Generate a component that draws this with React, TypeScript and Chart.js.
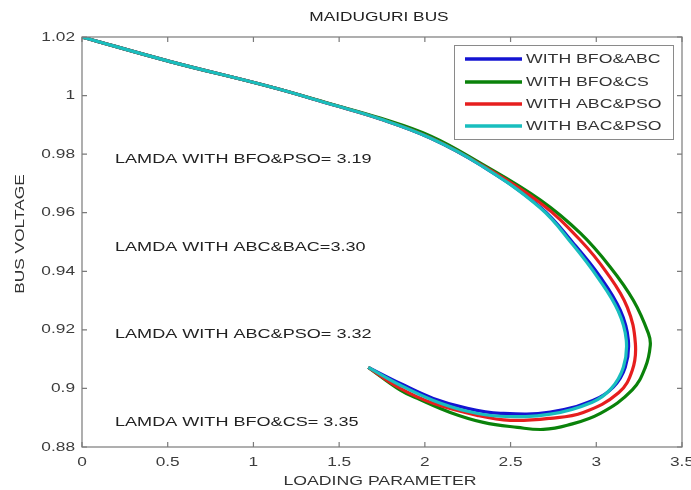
import React, { useEffect, useRef } from "react";
import { Chart, registerables } from "chart.js";

Chart.register(...registerables);

const chartTitle = "MAIDUGURI BUS";
const xAxisTitle = "LOADING PARAMETER";
const yAxisTitle = "BUS VOLTAGE";

const xTickValues = [0, 0.5, 1, 1.5, 2, 2.5, 3, 3.5];
const xTickLabels = ["0", "0.5", "1", "1.5", "2", "2.5", "3", "3.5"];
const yTickValues = [0.88, 0.9, 0.92, 0.94, 0.96, 0.98, 1.0, 1.02];
const yTickLabels = ["0.88", "0.9", "0.92", "0.94", "0.96", "0.98", "1", "1.02"];

const seriesNames = ["WITH BFO&ABC", "WITH BFO&CS", "WITH ABC&PSO", "WITH BAC&PSO"];
const seriesColors = ["#1414d2", "#0a820a", "#e61e1e", "#19bebe"];

const annotations = [
  "LAMDA WITH BFO&PSO= 3.19",
  "LAMDA WITH ABC&BAC=3.30",
  "LAMDA WITH ABC&PSO= 3.32",
  "LAMDA WITH BFO&CS= 3.35",
];
const annotationVoltages = [0.9783, 0.9483, 0.9184, 0.8883];

// WITH BFO&ABC (blue)
const blueX = [0, 0.515, 1.098, 1.448, 1.74, 2.032, 2.324, 2.674, 2.866, 3.024, 3.14, 3.187, 3.169, 3.099, 2.983, 2.732, 2.44, 2.248, 2.049, 1.857, 1.67];
const blueY = [1.02, 1.0116, 1.003, 0.9971, 0.992, 0.9855, 0.9763, 0.9619, 0.9496, 0.938, 0.9267, 0.9165, 0.9072, 0.9004, 0.896, 0.8919, 0.8915, 0.8932, 0.8966, 0.9017, 0.9072];

// WITH BFO&CS (green)
const greenX = [0, 0.515, 1.098, 1.448, 1.74, 2.032, 2.324, 2.674, 2.907, 3.082, 3.216, 3.304, 3.315, 3.286, 3.21, 3.024, 2.831, 2.691, 2.54, 2.341, 2.148, 1.956, 1.857, 1.67];
const greenY = [1.02, 1.0116, 1.003, 0.9972, 0.9923, 0.9862, 0.9769, 0.9643, 0.953, 0.9414, 0.9301, 0.9188, 0.9147, 0.9072, 0.8995, 0.8915, 0.8874, 0.886, 0.8867, 0.8884, 0.8918, 0.8966, 0.8994, 0.9072];

// WITH ABC&PSO (red)
const redX = [0, 0.515, 1.098, 1.448, 1.74, 2.032, 2.324, 2.674, 2.907, 3.064, 3.181, 3.228, 3.21, 3.13, 2.924, 2.732, 2.498, 2.306, 2.049, 1.857, 1.67];
const redY = [1.02, 1.0116, 1.003, 0.9971, 0.992, 0.9856, 0.9765, 0.9633, 0.9506, 0.9393, 0.9277, 0.9154, 0.9062, 0.8985, 0.8918, 0.8898, 0.8891, 0.8908, 0.8949, 0.9, 0.9072];

// WITH BAC&PSO (cyan)
const cyanX = [0, 0.515, 1.098, 1.448, 1.74, 2.032, 2.324, 2.674, 2.86, 3.012, 3.128, 3.175, 3.158, 3.088, 2.977, 2.732, 2.44, 2.248, 2.049, 1.857, 1.67];
const cyanY = [1.02, 1.0116, 1.003, 0.9971, 0.992, 0.9855, 0.9763, 0.9616, 0.9493, 0.9376, 0.9264, 0.9165, 0.9072, 0.9, 0.8953, 0.8912, 0.8905, 0.8922, 0.8959, 0.9011, 0.9072];

const seriesX = [blueX, greenX, redX, cyanX];
const seriesY = [blueY, greenY, redY, cyanY];

const FONT = "'Liberation Sans', Arial, sans-serif";

function wideText(
  ctx: CanvasRenderingContext2D,
  text: string,
  x: number,
  y: number,
  align: CanvasTextAlign,
  size: number,
  color: string,
  sx = 1.33,
  rotate = 0
) {
  ctx.save();
  ctx.translate(x, y);
  if (rotate) ctx.rotate(rotate);
  ctx.scale(sx, 1);
  ctx.font = `${size}px ${FONT}`;
  ctx.fillStyle = color;
  ctx.textAlign = align;
  ctx.textBaseline = "middle";
  ctx.fillText(text, 0, 0);
  ctx.restore();
}

const decorPlugin = {
  id: "matlabDecor",
  afterDraw(chart: any) {
    const ctx: CanvasRenderingContext2D = chart.ctx;
    const area = chart.chartArea;
    const xs = chart.scales.x;
    const ys = chart.scales.y;
    const axisColor = "#7a7a7a";
    const tickColor = "#3c3c3c";

    ctx.save();
    ctx.strokeStyle = axisColor;
    ctx.lineWidth = 1.2;
    ctx.strokeRect(area.left, area.top, area.right - area.left, area.bottom - area.top);

    const tl = 5;
    ctx.beginPath();
    xTickValues.forEach((v) => {
      const px = xs.getPixelForValue(v);
      ctx.moveTo(px, area.bottom);
      ctx.lineTo(px, area.bottom - tl);
      ctx.moveTo(px, area.top);
      ctx.lineTo(px, area.top + tl);
    });
    yTickValues.forEach((v) => {
      const py = ys.getPixelForValue(v);
      ctx.moveTo(area.left, py);
      ctx.lineTo(area.left + tl, py);
      ctx.moveTo(area.right, py);
      ctx.lineTo(area.right - tl, py);
    });
    ctx.stroke();

    xTickValues.forEach((v, i) => {
      wideText(ctx, xTickLabels[i], xs.getPixelForValue(v), area.bottom + 15, "center", 13, tickColor);
    });
    yTickValues.forEach((v, i) => {
      wideText(ctx, yTickLabels[i], area.left - 7, ys.getPixelForValue(v), "right", 13, tickColor);
    });

    wideText(ctx, chartTitle, (area.left + area.right) / 2 - 3, 17, "center", 13, "#222");
    wideText(ctx, xAxisTitle, (area.left + area.right) / 2 - 2, 481, "center", 13, "#333", 1.36);
    wideText(ctx, yAxisTitle, 20, (area.top + area.bottom) / 2 - 8, "center", 13, "#333", 1.33, -Math.PI / 2);

    annotations.forEach((t, i) => {
      wideText(ctx, t, 115, ys.getPixelForValue(annotationVoltages[i]), "left", 13, "#222", 1.39);
    });

    const lx = 454, ly = 45, lw = 219, lh = 94;
    ctx.fillStyle = "#fff";
    ctx.fillRect(lx, ly, lw, lh);
    ctx.strokeStyle = "#8a8a8a";
    ctx.lineWidth = 1;
    ctx.strokeRect(lx + 0.5, ly + 0.5, lw, lh);
    const rows = [59, 82, 104, 126];
    seriesNames.forEach((n, i) => {
      ctx.strokeStyle = seriesColors[i];
      ctx.lineWidth = 3.5;
      ctx.beginPath();
      ctx.moveTo(465, rows[i]);
      ctx.lineTo(522, rows[i]);
      ctx.stroke();
      wideText(ctx, n, 526, rows[i], "left", 13, "#333", 1.36);
    });
    ctx.restore();
  },
};

export default function App() {
  const ref = useRef<HTMLCanvasElement>(null);

  useEffect(() => {
    if (!ref.current) return;
    const datasets = seriesNames.map((name, i) => ({
      label: name,
      data: seriesX[i].map((x, j) => ({ x, y: seriesY[i][j] })),
      showLine: true,
      borderColor: seriesColors[i],
      backgroundColor: seriesColors[i],
      borderWidth: 3.2,
      pointRadius: 0,
      tension: 0.4,
      fill: false,
      order: 4 - i,
    }));
    const chart = new Chart(ref.current, {
      type: "scatter",
      data: { datasets },
      options: {
        animation: false,
        responsive: false,
        devicePixelRatio: 1,
        layout: { padding: { left: 82, right: 9, top: 37, bottom: 43 } },
        scales: {
          x: { type: "linear", min: 0, max: 3.5, display: false },
          y: { type: "linear", min: 0.88, max: 1.02, display: false },
        },
        plugins: { legend: { display: false }, tooltip: { enabled: false } },
      },
      plugins: [decorPlugin],
    } as any);
    return () => chart.destroy();
  }, []);

  return (
    <div style={{ position: "fixed", left: 0, top: 0, width: 691, height: 490, background: "#fff" }}>
      <canvas ref={ref} width={691} height={490} />
    </div>
  );
}
